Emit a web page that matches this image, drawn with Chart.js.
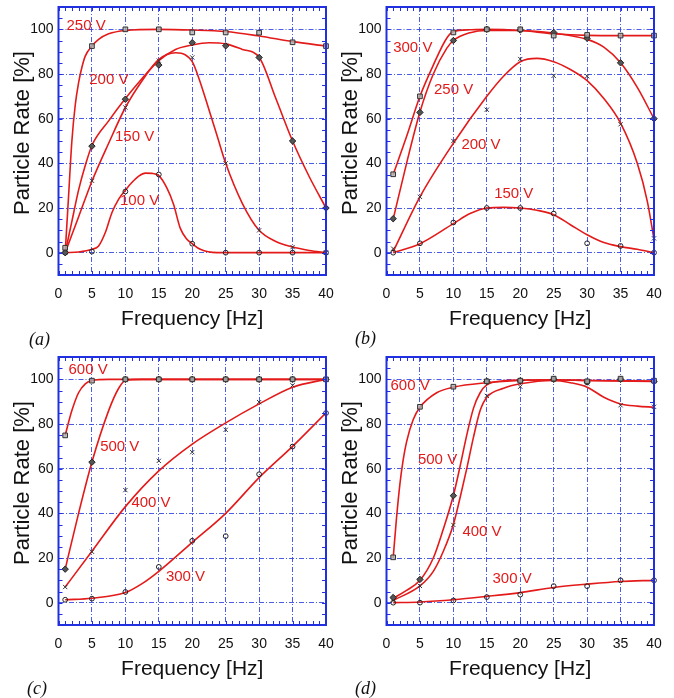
<!DOCTYPE html>
<html>
<head>
<meta charset="utf-8">
<script src="https://cdn.jsdelivr.net/npm/chart.js@4.4.1/dist/chart.umd.min.js"></script>
<style>
  body { margin: 0; background: #fff; width: 674px; height: 698px; overflow: hidden; position: relative; }
  canvas { position: absolute; }
  .tag { position: absolute; font: italic 18px "Liberation Serif", "Times New Roman", serif; line-height: 18px; color: #111; }
</style>
</head>
<body>
<canvas id="pa" width="337" height="349" style="left:0;top:0"></canvas>
<canvas id="pb" width="337" height="349" style="left:328px;top:0"></canvas>
<canvas id="pc" width="337" height="349" style="left:0;top:350px"></canvas>
<canvas id="pd" width="337" height="349" style="left:328px;top:350px"></canvas>
<div class="tag" style="left:29px;top:330px">(a)</div>
<div class="tag" style="left:355px;top:329px">(b)</div>
<div class="tag" style="left:27px;top:679px">(c)</div>
<div class="tag" style="left:355px;top:679px">(d)</div>
<script>
// measured frequencies (same for every panel)
const freq = [1, 5, 10, 15, 20, 25, 30, 35, 40];
const xTicks = [0, 5, 10, 15, 20, 25, 30, 35, 40];
const yTicks = [0, 20, 40, 60, 80, 100];

// (a) measured points
const a250 = [2.2, 92.5, 100, 100, 98.6, 98.6, 98.5, 94.2, 92.5];
const a200 = [0, 47.7, 68.7, 84, 94, 92.6, 87.4, 50, 20];
const a150 = [0, 32.2, 65, 86, 87.4, 40, 10, 2.5, 0];
const a100 = [0, 0.5, 27.4, 35, 4, 0, 0, 0, 0];
// (a) fitted curves, [freq, rate]
const a250Fit = [[1,0],[1.5,25],[2,50],[2.5,66],[3,76],[3.5,83],[4,88],[5,92.5],[6,95.5],[7.5,98],[10,99.5],[15,100],[20,99.7],[25,99],[30,97],[35,94.5],[40,92.5]];
const a200Fit = [[1,0],[2,14],[3,28],[4,39],[5,48],[7.5,59],[10,69],[12.5,78],[15,86],[17.5,91],[20,93],[22.5,94],[25,93.5],[27.5,91],[30,87.5],[32.5,69],[35,50],[37.5,34],[40,20]];
const a150Fit = [[1,0],[3,16],[5,32],[7.5,49],[10,65],[12.5,77],[15,86.5],[17.5,89.5],[19,88.5],[20,85.5],[21,78],[22.5,64],[23.75,52],[25,40],[27.5,22],[30,10],[32.5,5],[35,2.5],[37.5,1],[40,0]];
const a100Fit = [[1,0],[3,0.3],[5,1.5],[6,3],[7,9],[8,18],[9,24],[10,28],[11,31.5],[12,34.3],[13,35.6],[14,35.5],[15,34.5],[16.2,29],[17.2,21.7],[18.2,11],[19.2,6],[20,4],[21.2,1.5],[23.7,0],[30,0],[35,0],[40,0]];

// (b)
const b300 = [35.1, 70, 98.6, 100, 100, 97.2, 97.5, 97.2, 97.2];
const b250 = [15.2, 62.8, 95, 100, 99.7, 98.6, 96, 85, 60];
const b200 = [1.8, 25, 50, 64, 86.7, 79.2, 79, 57.5, 6.4];
const b150 = [0, 4.2, 13.5, 20, 20, 17.5, 4.2, 3, 0];
const b300Fit = [[1,35],[3,52],[5,70],[7,84],[9,96],[10,99],[12.5,99.8],[15,100],[20,99.5],[25,98],[30,97.3],[35,97.2],[40,97.2]];
const b250Fit = [[1,15],[3,40],[5,63],[7,80],[9,91.5],[10,95],[12.5,98.5],[15,99.5],[20,99.5],[25,98.3],[30,95.5],[32.5,92],[35,85],[37.5,74],[40,60]];
const b200Fit = [[1,0.5],[5,25],[10,49],[15,70],[17.5,79],[20,85.5],[22.5,87],[25,85.5],[27.5,82],[30,77],[32.5,69],[35,58],[37.5,40],[39,23],[40,6]];
const b150Fit = [[1,0],[5,4],[10,13],[12.5,17.5],[15,20],[17.5,20.3],[20,20],[22.5,19],[25,17],[27.5,12.5],[30,8],[32.5,4.5],[35,2.7],[37.5,1.5],[40,0]];

// (c)
const c600 = [74.9, 99.4, 100, 100, 100, 100, 100, 100, 100];
const c500 = [15, 62.9, 100, 100, 100, 100, 100, 100, 100];
const c400 = [7, 22.8, 50.4, 63.5, 67.4, 77.4, 89.8, 97.3, 100];
const c300 = [1.3, 1.8, 4.8, 16, 27.7, 29.8, 57.5, 69.9, 84.9];
const c600Fit = [[1,75],[2,86],[3,94],[4,98],[5,99.5],[7.5,100],[40,100]];
const c500Fit = [[1,15],[3,40],[5,63],[7.5,86],[9,96],[10,99.5],[12.5,100],[40,100]];
const c400Fit = [[1,7],[5,23],[10,43],[15,59],[20,71],[25,80.5],[30,89],[35,96.5],[40,100]];
const c300Fit = [[1,1.3],[5,2],[10,4.5],[12.5,8.5],[15,14],[20,27],[25,40],[30,56],[35,70],[40,85]];

// (d)
const d600 = [20.3, 87.7, 96.7, 99.1, 99.4, 100.3, 99.1, 100.3, 99.4];
const d500 = [2.3, 10.4, 47.9, 99.1, 99.4, 100, 98.8, 100, 99.1];
const d400 = [1, 7.5, 34.8, 92.6, 96.7, 100, 98.2, 88.4, 87.7];
const d300 = [0, 0, 1, 2.5, 3.6, 7.4, 7.4, 10, 10];
const d600Fit = [[1,20],[1.5,38],[2,53],[2.5,64],[3,72],[4,82],[5,87.5],[7.5,94],[10,96.5],[15,98.5],[20,99.5],[25,99.7],[30,99.5],[40,99.2]];
const d500Fit = [[1,2],[3,5.5],[5,10],[7,20],[8.5,33],[10,48],[11,61],[12,75],[13,87],[14,94],[15,97.5],[17.5,99.3],[20,99.7],[25,99.8],[30,99.5],[40,99]];
const d400Fit = [[1,1],[5,7.5],[7,14],[8.5,23],[10,35],[11,47],[12,60],[13,74],[14,86],[15,92],[17.5,96],[20,98],[25,99.5],[27.5,98.5],[30,96.5],[32.5,92],[35,89],[37.5,88],[40,87.5]];
const d300Fit = [[1,0],[5,0.3],[10,1.3],[15,2.8],[20,4.5],[25,6.8],[30,8.3],[35,9.5],[40,10]];

const BLUE = '#2030e0';
const GRID = 'rgba(45,65,225,0.85)';
const RED = '#e41a1a';
const DASH = [5, 2, 1, 2];

// square, diamond, cross, circle -- highest voltage first
const markerStyles = [
  { pointStyle: 'rect', radius: 3.3, bg: 'rgba(175,175,175,0.8)', border: '#333' },
  { pointStyle: 'rectRot', radius: 3.2, bg: '#555', border: '#222' },
  { pointStyle: 'crossRot', radius: 3, bg: '#333', border: '#333' },
  { pointStyle: 'circle', radius: 2.4, bg: 'rgba(255,255,255,0)', border: '#222' },
];

const framePlugin = {
  id: 'frame',
  beforeDatasetsDraw(chart) {
    // top grid line (100 %) drawn here, same style as the others
    const { ctx, chartArea: a, scales: { y } } = chart;
    const py = Math.round(y.getPixelForValue(100)) + 0.5;
    ctx.save();
    ctx.strokeStyle = GRID;
    ctx.lineWidth = 1;
    ctx.setLineDash(DASH);
    ctx.beginPath();
    ctx.moveTo(a.left, py);
    ctx.lineTo(a.right, py);
    ctx.stroke();
    ctx.restore();
  },
  afterDraw(chart, args, opts) {
    const { ctx, chartArea: a, scales: { x, y } } = chart;
    ctx.save();
    // minor ticks on all four sides
    ctx.strokeStyle = BLUE;
    ctx.lineWidth = 1;
    ctx.beginPath();
    for (let v = 0; v <= 40; v++) {
      const px = Math.round(x.getPixelForValue(v)) + 0.5;
      ctx.moveTo(px, a.bottom); ctx.lineTo(px, a.bottom - 4);
      ctx.moveTo(px, a.top); ctx.lineTo(px, a.top + 4);
    }
    for (let v = -10; v <= 110; v += 5) {
      const py = Math.round(y.getPixelForValue(v)) + 0.5;
      ctx.moveTo(a.left, py); ctx.lineTo(a.left + 4, py);
      ctx.moveTo(a.right, py); ctx.lineTo(a.right - 4, py);
    }
    ctx.stroke();
    ctx.lineWidth = 2;
    ctx.strokeRect(a.left, a.top, a.right - a.left, a.bottom - a.top);

    // voltage labels
    ctx.fillStyle = RED;
    ctx.font = '15px "Liberation Sans", Arial, sans-serif';
    ctx.textAlign = 'left';
    ctx.textBaseline = 'middle';
    opts.labels.forEach(l => {
      ctx.fillText(l.text, x.getPixelForValue(l.x), y.getPixelForValue(l.y));
    });

    // y axis title
    ctx.fillStyle = '#111';
    ctx.font = '22px "Liberation Sans", Arial, sans-serif';
    ctx.textAlign = 'center';
    ctx.translate(23, (a.top + a.bottom) / 2 - 8);
    ctx.rotate(-Math.PI / 2);
    ctx.fillText('Particle Rate [%]', 0, 0);
    ctx.restore();
  }
};

function makePanel(id, series, labels) {
  const datasets = [];
  series.forEach((s, i) => {
    const st = markerStyles[i];
    datasets.push({
      data: s.values.map((v, k) => ({ x: freq[k], y: v })),
      showLine: false,
      pointStyle: st.pointStyle,
      pointRadius: st.radius,
      pointBackgroundColor: st.bg,
      pointBorderColor: st.border,
      pointBorderWidth: 1,
      clip: false,
      order: 0
    });
    datasets.push({
      data: s.fit.map(p => ({ x: p[0], y: p[1] })),
      borderColor: RED,
      borderWidth: 1.6,
      pointRadius: 0,
      cubicInterpolationMode: 'monotone',
      fill: false,
      order: 1
    });
  });

  new Chart(document.getElementById(id), {
    type: 'line',
    data: { datasets },
    options: {
      responsive: false,
      animation: false,
      devicePixelRatio: 1,
      layout: { padding: { left: 0, right: 11, top: 7, bottom: 17 } },
      plugins: {
        legend: { display: false },
        tooltip: { enabled: false },
        frame: { labels }
      },
      scales: {
        x: {
          type: 'linear',
          min: 0,
          max: 40,
          afterBuildTicks: s => { s.ticks = xTicks.map(v => ({ value: v })); },
          afterFit: s => { s.height = 57; s.paddingLeft = 0; s.paddingRight = 0; },
          grid: { color: GRID, lineWidth: 1, drawTicks: false },
          border: { display: false, dash: DASH },
          ticks: { color: '#111', padding: 11, maxRotation: 0, font: { size: 14, family: '"Liberation Sans", Arial, sans-serif' } },
          title: { display: true, text: 'Frequency [Hz]', color: '#111', padding: 0, font: { size: 21, family: '"Liberation Sans", Arial, sans-serif' } }
        },
        y: {
          type: 'linear',
          min: -10,
          max: 110,
          afterBuildTicks: s => { s.ticks = yTicks.map(v => ({ value: v })); },
          afterFit: s => { s.width = 58.5; s.paddingTop = 0; s.paddingBottom = 0; },
          grid: { color: c => (c.tick && c.tick.value === 100 ? 'rgba(0,0,0,0)' : GRID), lineWidth: 1, drawTicks: false },
          border: { display: false, dash: DASH },
          ticks: { color: '#111', padding: 5, font: { size: 14, family: '"Liberation Sans", Arial, sans-serif' } }
        }
      }
    },
    plugins: [framePlugin]
  });
}

makePanel('pa', [
  { values: a250, fit: a250Fit },
  { values: a200, fit: a200Fit },
  { values: a150, fit: a150Fit },
  { values: a100, fit: a100Fit }
], [
  { text: '250 V', x: 1.2, y: 101.7 },
  { text: '200 V', x: 4.6, y: 77.6 },
  { text: '150 V', x: 8.45, y: 52 },
  { text: '100 V', x: 9.2, y: 23.2 }
]);

makePanel('pb', [
  { values: b300, fit: b300Fit },
  { values: b250, fit: b250Fit },
  { values: b200, fit: b200Fit },
  { values: b150, fit: b150Fit }
], [
  { text: '300 V', x: 1.0, y: 91.5 },
  { text: '250 V', x: 7.1, y: 73 },
  { text: '200 V', x: 11.2, y: 48.1 },
  { text: '150 V', x: 16.1, y: 26.2 }
]);

makePanel('pc', [
  { values: c600, fit: c600Fit },
  { values: c500, fit: c500Fit },
  { values: c400, fit: c400Fit },
  { values: c300, fit: c300Fit }
], [
  { text: '600 V', x: 1.5, y: 104.2 },
  { text: '500 V', x: 6.23, y: 69.8 },
  { text: '400 V', x: 10.9, y: 44.6 },
  { text: '300 V', x: 16.06, y: 11.7 }
]);

makePanel('pd', [
  { values: d600, fit: d600Fit },
  { values: d500, fit: d500Fit },
  { values: d400, fit: d400Fit },
  { values: d300, fit: d300Fit }
], [
  { text: '600 V', x: 0.6, y: 97.3 },
  { text: '500 V', x: 4.7, y: 64 },
  { text: '400 V', x: 11.35, y: 31.5 },
  { text: '300 V', x: 15.85, y: 10.5 }
]);
</script>
</body>
</html>
